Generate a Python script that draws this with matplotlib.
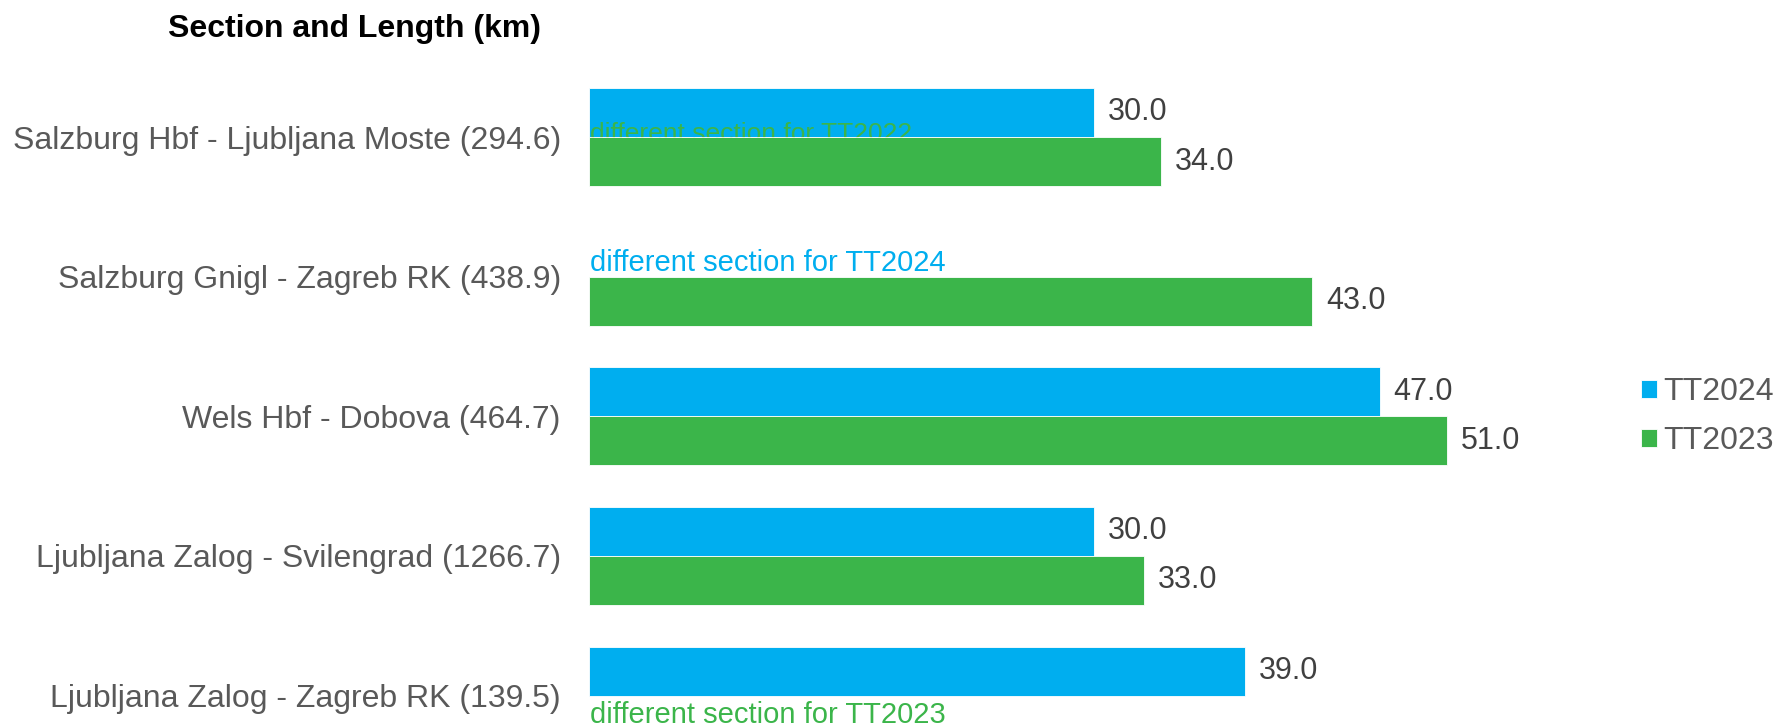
import numpy as np
import matplotlib.pyplot as plt
from matplotlib import font_manager

plt.rcParams["font.family"] = ["Liberation Sans", "DejaVu Sans"]

sections = [
    "Salzburg Hbf - Ljubljana Moste (294.6)",
    "Salzburg Gnigl - Zagreb RK (438.9)",
    "Wels Hbf - Dobova (464.7)",
    "Ljubljana Zalog - Svilengrad (1266.7)",
    "Ljubljana Zalog - Zagreb RK (139.5)",
]
tt2024 = [30.0, np.nan, 47.0, 30.0, 39.0]
tt2023 = [34.0, 43.0, 51.0, 33.0, np.nan]

BLUE = "#00AEEF"
GREEN = "#3BB54A"
VALUE_GREY = "#404040"
LABEL_GREY = "#595959"

# the notes use a narrow face if there is one
installed = {f.name for f in font_manager.fontManager.ttflist}
if "Liberation Sans Narrow" in installed:
    note_font, note_size = ["Liberation Sans Narrow", "DejaVu Sans"], 25.5
else:
    note_font, note_size = ["Liberation Sans", "DejaVu Sans"], 21

W, H = 1785, 726
x0, x1 = 588.6, 1600
px_per_unit = 16.83
row_px = 139.65
first_row = 137.0
last_row = first_row + 4 * row_px

fig = plt.figure(figsize=(W / 100, H / 100), dpi=100)
ax = fig.add_axes([x0 / W, 0, (x1 - x0) / W, 1])

y = np.arange(len(sections))
h = 49 / row_px
ax.barh(y - h / 2, tt2024, height=h, color=BLUE, edgecolor="white", linewidth=0.6,
        label="TT2024", zorder=2)
ax.barh(y + h / 2, tt2023, height=h, color=GREEN, edgecolor="white", linewidth=0.6,
        label="TT2023", zorder=3)

for series, off in [(tt2024, -h / 2), (tt2023, h / 2)]:
    for yi, v in zip(y, series):
        if not np.isnan(v):
            ax.annotate(f"{v:.1f}", (v, yi + off), xytext=(10, 0),
                        textcoords="offset points", va="center", ha="left",
                        fontsize=22, color=VALUE_GREY)

# notes where a section differed in a timetable year
ax.text(0.1, 0.03, "different section for TT2022", color=GREEN, fontsize=19,
        va="baseline", ha="left", zorder=2.5)
ax.text(0.1, 0.96, "different section for TT2024", color=BLUE, fontsize=note_size,
        family=note_font, va="baseline", ha="left", zorder=2.5)
ax.text(0.1, 4.196, "different section for TT2023", color=GREEN, fontsize=note_size,
        family=note_font, va="baseline", ha="left", zorder=2.5)

ax.set_xlim(0, (x1 - x0) / px_per_unit)
ax.set_ylim(4 + (H - last_row) / row_px, -first_row / row_px)
ax.set_yticks(y)
ax.set_yticklabels(sections, fontsize=23, color=LABEL_GREY)
ax.tick_params(axis="y", length=0, pad=20)
ax.set_xticks([])
for s in ax.spines.values():
    s.set_visible(False)

fig.text(168 / W, 1 - 29 / H, "Section and Length (km)", fontsize=23,
         fontweight="bold", color="black", va="center", ha="left")

fig.legend(loc="center left", bbox_to_anchor=(1641 / W, 1 - 416.5 / H),
           frameon=False, fontsize=23, handlelength=0.49, handleheight=0.49,
           handletextpad=0.2, labelspacing=0.6, borderpad=0, borderaxespad=0,
           labelcolor=LABEL_GREY)

fig.savefig("out.png", dpi=100)
